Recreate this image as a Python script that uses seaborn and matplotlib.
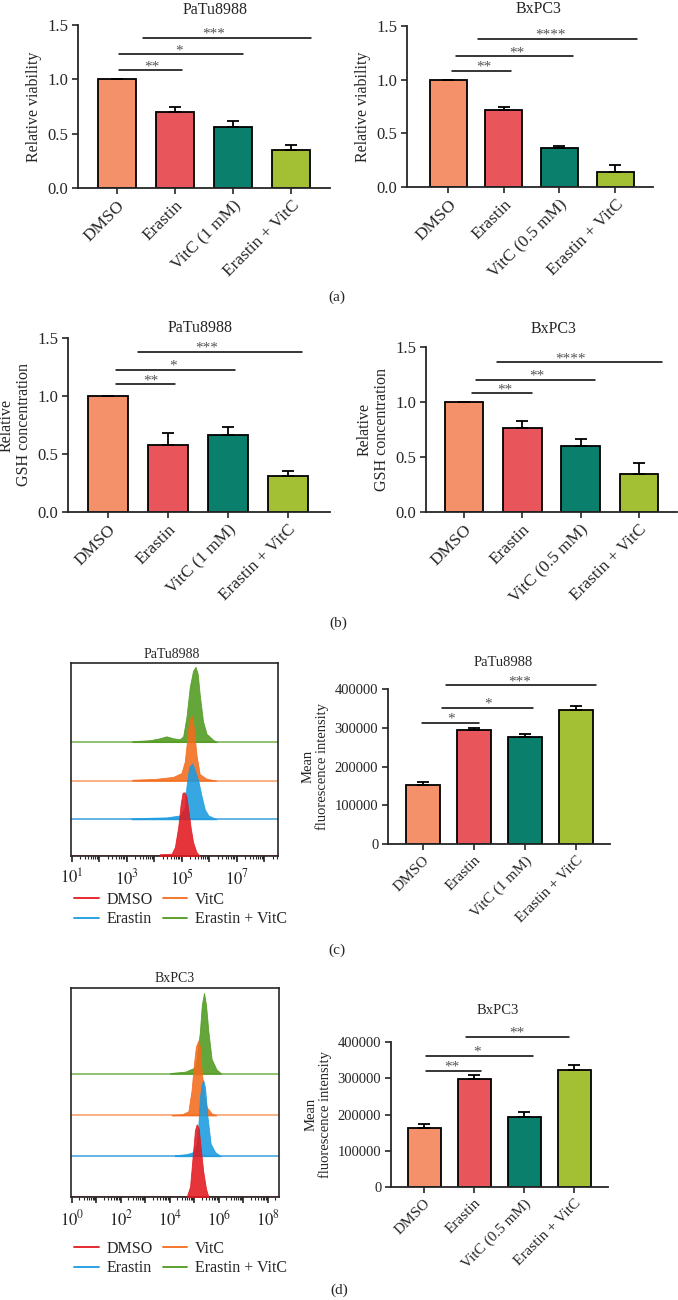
import numpy as np
import matplotlib
matplotlib.use("Agg")
import matplotlib.pyplot as plt
import seaborn as sns
from matplotlib.lines import Line2D
from matplotlib.ticker import FixedLocator, NullFormatter

# ---- bar data ----
cats_1mm = ["DMSO", "Erastin", "VitC (1 mM)", "Erastin + VitC"]
cats_05mm = ["DMSO", "Erastin", "VitC (0.5 mM)", "Erastin + VitC"]
bar_colors = ["#F4906A", "#E8555A", "#0A7F6C", "#A3BF33"]

via_patu = [1.0, 0.70, 0.56, 0.35]
via_patu_err = [0, 0.043, 0.055, 0.043]
via_bx = [1.0, 0.716, 0.363, 0.143]
via_bx_err = [0, 0.031, 0.018, 0.062]

gsh_patu = [1.0, 0.574, 0.663, 0.309]
gsh_patu_err = [0, 0.104, 0.067, 0.043]
gsh_bx = [1.0, 0.761, 0.602, 0.341]
gsh_bx_err = [0, 0.067, 0.061, 0.10]

mfi_patu = [151000, 294000, 277000, 346000]
mfi_patu_err = [10000, 4500, 6000, 11000]
mfi_bx = [163700, 298900, 193100, 323700]
mfi_bx_err = [11000, 9000, 13000, 13000]

# significance brackets: (start, end, height, text x, stars)
sig_via_patu = [(0.03, 1.12, 1.085, 0.6, "**"), (0.03, 2.17, 1.23, 1.07, "*"), (0.45, 3.34, 1.38, 1.66, "***")]
sig_via_bx = [(0.07, 1.13, 1.085, 0.65, "**"), (0.14, 2.25, 1.22, 1.24, "**"), (0.54, 3.39, 1.38, 1.83, "****")]
sig_gsh_patu = [(0.13, 1.12, 1.10, 0.72, "**"), (0.13, 2.12, 1.226, 1.08, "*"), (0.5, 3.23, 1.379, 1.65, "***")]
sig_gsh_bx = [(0.14, 1.17, 1.08, 0.70, "**"), (0.2, 2.24, 1.20, 1.25, "**"), (0.57, 3.4, 1.363, 1.82, "****")]
sig_mfi_patu = [(-0.02, 1.1, 313000, 0.55, "*"), (0.37, 2.16, 352000, 1.27, "*"), (0.45, 3.4, 410000, 1.9, "***")]
sig_mfi_bx = [(0.04, 1.14, 321000, 0.56, "**"), (0.04, 2.18, 362000, 1.06, "*"), (0.84, 2.9, 414600, 1.86, "**")]

# ---- flow histograms (log10 intensity, relative count) ----
hist_names = ["DMSO", "Erastin", "VitC", "Erastin + VitC"]
hist_fill = ["#E2191F", "#1A9BE0", "#F36B1C", "#4F9A1F"]
hist_line = ["#D8262B", "#4AA8E2", "#F7A56E", "#7DB85A"]

c_dmso_lx = [4.2, 4.63, 4.75, 4.87, 4.96, 5.03, 5.11, 5.17, 5.24, 5.32, 5.41, 5.53, 5.65]
c_dmso_h = [0.009, 0.012, 0.047, 0.15, 0.27, 0.328, 0.33, 0.306, 0.237, 0.15, 0.072, 0.021, 0]
c_era_lx = [3.17, 3.84, 4.44, 4.93, 5.11, 5.17, 5.27, 5.38, 5.46, 5.6, 5.72, 5.84, 5.97, 6.27]
c_era_h = [0.005, 0.008, 0.01, 0.02, 0.06, 0.17, 0.27, 0.29, 0.26, 0.2, 0.12, 0.05, 0.02, 0]
c_vitc_lx = [3.2, 4.08, 4.69, 4.99, 5.11, 5.2, 5.27, 5.36, 5.44, 5.53, 5.65, 5.9, 6.27]
c_vitc_h = [0.005, 0.01, 0.02, 0.04, 0.10, 0.22, 0.31, 0.337, 0.276, 0.138, 0.035, 0.01, 0]
c_ev_lx = [3.2, 3.84, 4.2, 4.44, 4.69, 4.93, 5.05, 5.17, 5.29, 5.41, 5.5, 5.58, 5.65, 5.77, 5.9, 6.14, 6.28]
c_ev_h = [0.005, 0.01, 0.02, 0.03, 0.02, 0.015, 0.03, 0.13, 0.285, 0.37, 0.39, 0.354, 0.25, 0.11, 0.043, 0.012, 0]

d_dmso_lx = [4.68, 4.82, 4.93, 5.02, 5.09, 5.17, 5.25, 5.36, 5.47, 5.57]
d_dmso_h = [0, 0.05, 0.2, 0.32, 0.348, 0.33, 0.24, 0.12, 0.04, 0]
d_era_lx = [4.2, 4.68, 4.95, 5.09, 5.16, 5.22, 5.29, 5.36, 5.43, 5.52, 5.66, 5.84, 6.07]
d_era_h = [0.005, 0.01, 0.02, 0.06, 0.15, 0.28, 0.34, 0.364, 0.33, 0.2, 0.06, 0.02, 0]
d_vitc_lx = [4.07, 4.5, 4.75, 4.88, 4.98, 5.06, 5.16, 5.22, 5.29, 5.39, 5.5, 5.7, 5.9]
d_vitc_h = [0.003, 0.006, 0.02, 0.12, 0.25, 0.33, 0.359, 0.33, 0.22, 0.1, 0.04, 0.01, 0]
d_ev_lx = [4.0, 4.63, 5.03, 5.09, 5.22, 5.3, 5.39, 5.47, 5.57, 5.7, 5.9, 6.1]
d_ev_h = [0.003, 0.01, 0.03, 0.07, 0.2, 0.33, 0.386, 0.33, 0.2, 0.07, 0.02, 0]

W, H = 678, 1300

sns.set_style("ticks")
plt.rcParams["font.family"] = ["Liberation Serif", "DejaVu Serif"]
plt.rcParams["mathtext.fontset"] = "stix"
plt.rcParams["axes.linewidth"] = 1.3

fig = plt.figure(figsize=(W / 100, H / 100), dpi=100)


def px_ax(l, t, r, b):
    return fig.add_axes([l / W, 1 - b / H, (r - l) / W, (b - t) / H])


def ftext(x, y, s, size):
    fig.text(x / W, 1 - y / H, s, ha="center", va="center", fontsize=size)


def bar_panel(ax, cats, vals, errs, sig, yticks, ylabel, fmt, tick_fs, lab_fs, lim):
    sns.barplot(x=cats, y=vals, hue=cats, palette=bar_colors, saturation=1,
                width=0.66, edgecolor="black", linewidth=1.3, legend=False, ax=ax)
    ax.errorbar(np.arange(4), vals, yerr=[np.zeros(4), errs], fmt="none",
                ecolor="black", elinewidth=1.3, capsize=4.5, capthick=1.3)
    for x0, x1, y, tx, s in sig:
        ax.plot([x0, x1], [y, y], color="black", lw=1.1, clip_on=False)
        ax.text(tx, y, s, ha="center", va="baseline", fontsize=11, color="#555555")
    ax.set_xlim(lim)
    ax.set_ylim(0, yticks[-1])
    ax.set_yticks(yticks)
    ax.set_yticklabels([fmt(v) for v in yticks], fontsize=tick_fs - 0.5)
    ax.set_xticks(range(4))
    ax.set_xticklabels(cats, rotation=45, ha="right", rotation_mode="anchor", fontsize=tick_fs)
    ax.set_xlabel("")
    ax.set_ylabel(ylabel, fontsize=lab_fs, linespacing=1.1)
    ax.tick_params(direction="out", length=4, width=1.2, pad=3)
    sns.despine(ax=ax)


def hist_panel(ax, curves, offsets, lo, hi, labelled):
    for i in range(3, -1, -1):
        lx, h = curves[i]
        ax.axhline(offsets[i], color=hist_line[i], lw=1.2, zorder=1)
        ax.fill_between(10 ** np.array(lx), offsets[i], offsets[i] + np.array(h),
                        color=hist_fill[i], alpha=0.88, lw=0.6, zorder=2 + (3 - i))
    ax.set_xscale("log")
    ax.set_xlim(10 ** lo, 10 ** hi)
    ax.set_ylim(0, 1)
    ax.set_yticks([])
    decades = list(range(int(np.floor(lo)), int(np.ceil(hi)) + 1))
    ax.xaxis.set_major_locator(FixedLocator([10.0 ** k for k in decades]))
    ax.set_xticklabels([f"$10^{{{k}}}$" if k in labelled else "" for k in decades], fontsize=12)
    minors = [m * 10.0 ** k for k in decades for m in range(2, 10)]
    ax.xaxis.set_minor_locator(FixedLocator(minors))
    ax.xaxis.set_minor_formatter(NullFormatter())
    ax.tick_params(axis="x", which="major", direction="out", length=4, width=1.2, pad=5)
    ax.tick_params(axis="x", which="minor", direction="out", length=2, width=0.8)
    for sp in ax.spines.values():
        sp.set_linewidth(1.2)


def hist_legend(top):
    handles = [Line2D([], [], color=hist_fill[i], lw=1.3) for i in range(4)]
    fig.legend(handles, hist_names, loc="upper left", ncol=2, frameon=False,
               bbox_to_anchor=(66 / W, 1 - top / H), fontsize=11.5, handlelength=1.55,
               handletextpad=0.5, columnspacing=0.6, labelspacing=0.2, borderpad=0)


dec = lambda v: f"{v:.1f}"
num = lambda v: f"{int(v)}"

# (a)
ax = px_ax(78, 25, 330, 188)
bar_panel(ax, cats_1mm, via_patu, via_patu_err, sig_via_patu, [0, 0.5, 1.0, 1.5],
          "Relative viability", dec, 12.5, 11.5, (-0.67, 3.67))
ax = px_ax(407, 26, 653, 187)
bar_panel(ax, cats_05mm, via_bx, via_bx_err, sig_via_bx, [0, 0.5, 1.0, 1.5],
          "Relative viability", dec, 12.5, 11.5, (-0.74, 3.68))
ftext(215, 10, "PaTu8988", 11.5)
ftext(539, 9, "BxPC3", 11.5)
ftext(337, 297, "(a)", 11)

# (b)
ax = px_ax(68, 338, 330, 512)
bar_panel(ax, cats_1mm, gsh_patu, gsh_patu_err, sig_gsh_patu, [0, 0.5, 1.0, 1.5],
          "Relative\nGSH concentration", dec, 12.5, 11.5, (-0.67, 3.7))
ax = px_ax(426, 347, 677, 512)
bar_panel(ax, cats_05mm, gsh_bx, gsh_bx_err, sig_gsh_bx, [0, 0.5, 1.0, 1.5],
          "Relative\nGSH concentration", dec, 12.5, 11.5, (-0.65, 3.65))
ftext(200, 328, "PaTu8988", 11.5)
ftext(554, 329, "BxPC3", 11.5)
ftext(338, 623, "(b)", 11)

# (c)
ax = px_ax(71, 663, 278, 856)
hist_panel(ax, [(c_dmso_lx, c_dmso_h), (c_era_lx, c_era_h), (c_vitc_lx, c_vitc_h), (c_ev_lx, c_ev_h)],
           [0, 0.19, 0.39, 0.59], 0.97, 8.5, [1, 3, 5, 7])
hist_legend(884)
ftext(172, 655, "PaTu8988", 10)
ax = px_ax(388, 689, 610, 844)
bar_panel(ax, cats_1mm, mfi_patu, mfi_patu_err, sig_mfi_patu, [0, 100000, 200000, 300000, 400000],
          "Mean\nfluorescence intensity", num, 11, 10.5, (-0.69, 3.67))
ftext(503, 663, "PaTu8988", 10.5)
ftext(337, 950, "(c)", 11)

# (d)
ax = px_ax(71, 988, 279, 1197)
hist_panel(ax, [(d_dmso_lx, d_dmso_h), (d_era_lx, d_era_h), (d_vitc_lx, d_vitc_h), (d_ev_lx, d_ev_h)],
           [0, 0.195, 0.39, 0.59], -0.04, 8.45, [0, 2, 4, 6, 8])
hist_legend(1233)
ftext(175, 978, "BxPC3", 10)
ax = px_ax(391, 1042, 608, 1187)
bar_panel(ax, cats_05mm, mfi_bx, mfi_bx_err, sig_mfi_bx, [0, 100000, 200000, 300000, 400000],
          "Mean\nfluorescence intensity", num, 11, 10.5, (-0.66, 3.68))
ftext(498, 1011, "BxPC3", 10.5)
ftext(339, 1290, "(d)", 11)

fig.savefig("out.png", dpi=100)
